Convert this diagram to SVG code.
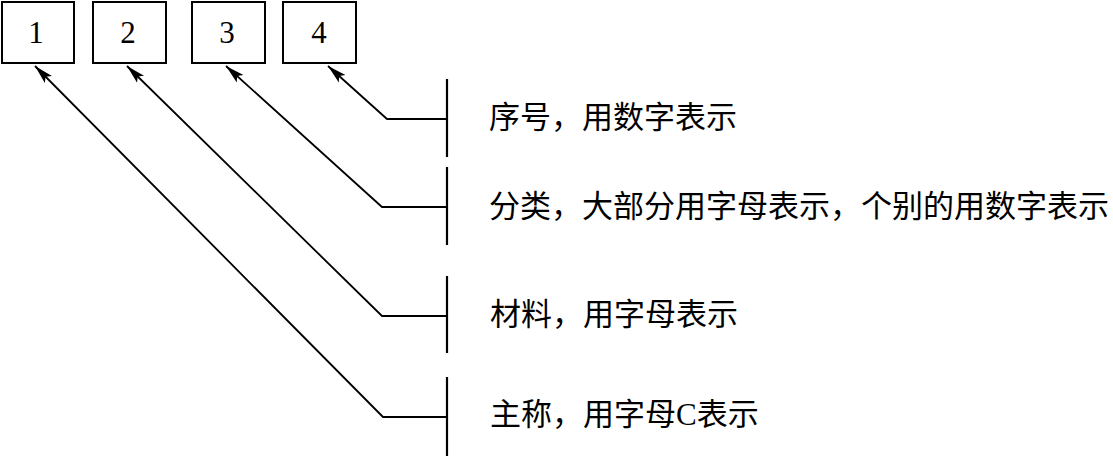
<svg xmlns="http://www.w3.org/2000/svg" width="1113" height="456" viewBox="0 0 1113 456">
<style>
.box{fill:#fff;stroke:#000;stroke-width:2}
.num{font-family:"Liberation Serif","Times New Roman",serif;font-size:31px;fill:#000;text-anchor:middle}
.lbl{font-family:"Liberation Serif","Noto Sans CJK SC",serif;font-size:31px;fill:#000}
.ln{fill:none;stroke:#000;stroke-width:1.8}
.bar{fill:none;stroke:#000;stroke-width:2.2}
</style>
<defs>
<marker id="ah" markerWidth="22" markerHeight="12" refX="19" refY="6" orient="auto" markerUnits="userSpaceOnUse">
<path d="M0,1 L19,6 L0,11 L4,6 Z" fill="#000"/>
</marker>
</defs>
<rect width="1113" height="456" fill="#fff"/>
<g id="node1"><rect class="box" x="2" y="2" width="72" height="61"/><text class="num" x="36" y="43">1</text></g>
<g id="node2"><rect class="box" x="93" y="2" width="73" height="61"/><text class="num" x="128" y="43">2</text></g>
<g id="node3"><rect class="box" x="192" y="2" width="73" height="61"/><text class="num" x="227" y="43">3</text></g>
<g id="node4"><rect class="box" x="283" y="2" width="73" height="61"/><text class="num" x="319" y="43">4</text></g>
<g id="connectors">
<polyline class="ln" points="447,119 387,119 328,66" marker-end="url(#ah)"/>
<polyline class="ln" points="447,207 382,207 226,66" marker-end="url(#ah)"/>
<polyline class="ln" points="447,316 382,316 127,66" marker-end="url(#ah)"/>
<polyline class="ln" points="447,417 383,417 35,66" marker-end="url(#ah)"/>
<line class="bar" x1="447" y1="79" x2="447" y2="157"/>
<line class="bar" x1="447" y1="167" x2="447" y2="245"/>
<line class="bar" x1="447" y1="276" x2="447" y2="353"/>
<line class="bar" x1="447" y1="377" x2="447" y2="456"/>
</g>
<g id="label1"><text class="lbl" x="489" y="128">序号，用数字表示</text></g>
<g id="label2"><text class="lbl" x="489" y="217">分类，大部分用字母表示，个别的用数字表示</text></g>
<g id="label3"><text class="lbl" x="490" y="325">材料，用字母表示</text></g>
<g id="label4"><text class="lbl" x="490" y="425">主称，用字母C表示</text></g>
</svg>
